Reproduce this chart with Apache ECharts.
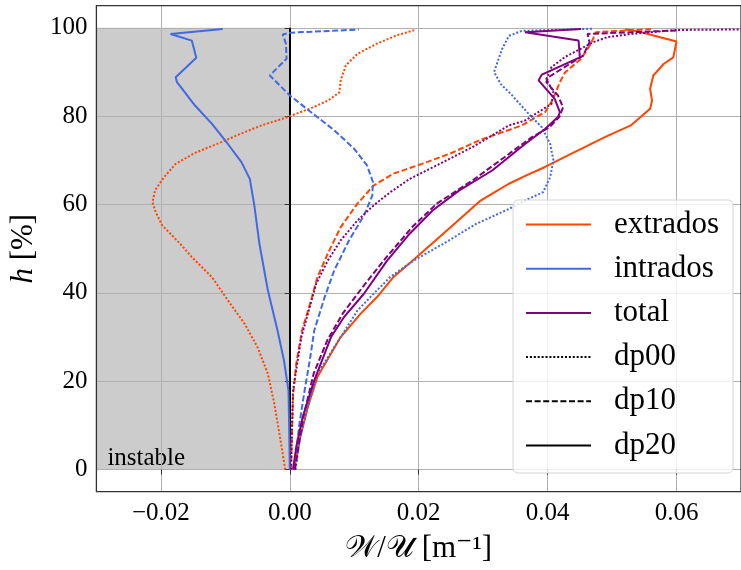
<!DOCTYPE html>
<html><head><meta charset="utf-8">
<script src="https://cdn.jsdelivr.net/npm/echarts@6/dist/echarts.min.js"></script>
<style>html,body{margin:0;padding:0;background:#fff}#c{width:741px;height:570px}</style>
</head><body><div id="c"></div>
<script>
// ---- axis ticks ----
const xTicks = [-0.02, 0, 0.02, 0.04, 0.06];
const yTicks = [0, 20, 40, 60, 80, 100];
const legendNames = ['extrados', 'intrados', 'total', 'dp00', 'dp10', 'dp20'];

// ---- extrados ----
const extDp00H = [0, 8.1, 14.9, 21.7, 27.7, 33.0, 38.3, 43.6, 48.1, 51.1, 55.3, 58.3, 60.5, 63.2, 66.2, 69.2, 71.7, 74.0, 76.1, 77.9, 79.6, 80.0, 81.8, 83.5, 85.4, 88.1, 91.5, 94.1, 96.4, 98.3, 99.5];
const extDp00X = [-0.0007, -0.0016, -0.0024, -0.0034, -0.0050, -0.0070, -0.0096, -0.0121, -0.0152, -0.0170, -0.0198, -0.0208, -0.0213, -0.0209, -0.0195, -0.0177, -0.0147, -0.0108, -0.0075, -0.0044, -0.0007, 0.0000, 0.0033, 0.0059, 0.0077, 0.0079, 0.0087, 0.0105, 0.0135, 0.0166, 0.0194];
const extDp10H = [0, 6.6, 16.4, 24.0, 31.5, 38.3, 43.6, 48.9, 54.9, 60.2, 64.3, 67.0, 69.2, 71.6, 74.6, 77.9, 80.9, 83.7, 87.7, 89.9, 93.0, 96.4, 99.0, 99.7];
const extDp10X = [0.0002, 0.0003, 0.0005, 0.0010, 0.0019, 0.0033, 0.0043, 0.0059, 0.0079, 0.0105, 0.0130, 0.0161, 0.0205, 0.0250, 0.0295, 0.0360, 0.0396, 0.0408, 0.0419, 0.0427, 0.0452, 0.0467, 0.0475, 0.0560];
const extDp20H = [0, 6.6, 14.2, 21.0, 30.0, 35.3, 39.0, 43.6, 48.1, 53.4, 57.9, 60.9, 62.8, 64.7, 66.6, 68.5, 71.5, 73.4, 75.2, 77.9, 81.7, 83.5, 86.2, 89.2, 91.8, 93.3, 96.9, 99.2, 99.6];
const extDp20X = [0.0007, 0.0015, 0.0028, 0.0043, 0.0079, 0.0110, 0.0135, 0.0161, 0.0197, 0.0238, 0.0273, 0.0296, 0.0318, 0.0340, 0.0367, 0.0396, 0.0437, 0.0463, 0.0488, 0.0529, 0.0559, 0.0562, 0.0559, 0.0564, 0.0580, 0.0595, 0.0600, 0.0539, 0.0520];

// ---- intrados ----
const intDp00H = [0, 6.6, 14.2, 21.7, 30.0, 36.0, 39.8, 43.6, 47.3, 51.1, 55.6, 59.0, 60.9, 62.8, 66.2, 70.0, 73.7, 77.5, 80.3, 84.7, 87.3, 90.0, 95.1, 98.2, 99.3, 99.8];
const intDp00X = [0.0009, 0.0015, 0.0028, 0.0043, 0.0079, 0.0105, 0.0130, 0.0156, 0.0192, 0.0238, 0.0289, 0.0340, 0.0365, 0.0393, 0.0404, 0.0409, 0.0404, 0.0391, 0.0372, 0.0345, 0.0327, 0.0317, 0.0329, 0.0340, 0.0360, 0.0470];
const intDp10H = [0, 10.4, 17.9, 24.7, 31.5, 39.0, 45.1, 51.9, 57.5, 62.0, 65.1, 68.8, 72.6, 76.8, 80.9, 84.7, 89.2, 93.0, 96.4, 98.5, 98.9, 99.6];
const intDp10X = [0.0007, 0.0015, 0.0023, 0.0031, 0.0038, 0.0054, 0.0069, 0.0092, 0.0115, 0.0128, 0.0129, 0.0120, 0.0100, 0.0069, 0.0033, 0.0000, -0.0031, -0.0005, -0.0006, -0.0011, 0.0002, 0.0107];
const intDp20H = [0, 10.0, 17.9, 24.7, 31.5, 40.6, 51.0, 59.8, 65.8, 69.6, 73.7, 78.3, 82.4, 87.7, 88.8, 93.2, 97.1, 98.6, 99.7];
const intDp20X = [0.0000, -0.0001, -0.0002, -0.0009, -0.0019, -0.0034, -0.0047, -0.0055, -0.0062, -0.0075, -0.0096, -0.0121, -0.0147, -0.0175, -0.0177, -0.0145, -0.0152, -0.0185, -0.0104];

// ---- total ----
const totDp00H = [0, 17.9, 30.0, 36.8, 42.1, 47.3, 51.9, 56.4, 59.8, 62.8, 65.8, 69.6, 73.2, 77.9, 79.0, 82.8, 85.4, 88.4, 91.1, 93.4, 95.3, 96.7, 97.9, 98.6, 99.5, 99.7];
const totDp00X = [0.0002, 0.0005, 0.0018, 0.0031, 0.0041, 0.0059, 0.0079, 0.0105, 0.0130, 0.0156, 0.0186, 0.0238, 0.0286, 0.0340, 0.0365, 0.0406, 0.0409, 0.0398, 0.0406, 0.0427, 0.0452, 0.0470, 0.0493, 0.0529, 0.0600, 0.0760];
const totDp10H = [0, 11.9, 21.7, 29.2, 35.3, 41.3, 48.1, 54.9, 60.2, 65.4, 70.7, 75.2, 77.5, 79.8, 82.0, 84.7, 87.7, 88.8, 93.7, 96.7, 98.6, 99.4];
const totDp10X = [0.0008, 0.0021, 0.0037, 0.0058, 0.0082, 0.0113, 0.0150, 0.0190, 0.0228, 0.0283, 0.0333, 0.0375, 0.0403, 0.0418, 0.0424, 0.0416, 0.0398, 0.0401, 0.0455, 0.0465, 0.0462, 0.0600];
const totDp20H = [0, 5.1, 11.9, 20.2, 30.0, 34.5, 39.8, 47.3, 53.4, 58.7, 63.2, 67.7, 73.7, 77.1, 79.8, 80.9, 83.9, 88.1, 89.4, 93.3, 97.1, 99.0, 99.4, 99.7];
const totDp20X = [0.0005, 0.0010, 0.0020, 0.0038, 0.0064, 0.0084, 0.0115, 0.0151, 0.0186, 0.0222, 0.0263, 0.0314, 0.0365, 0.0396, 0.0416, 0.0419, 0.0411, 0.0386, 0.0391, 0.0450, 0.0448, 0.0365, 0.0363, 0.0452];

// ---- styling ----
const SERIF = "'Liberation Serif', 'DejaVu Serif', serif";
const colors = { extrados: '#ff4500', intrados: '#4169e1', total: '#800080' };
const dashes = { dp00: [2, 1.9], dp10: [6, 2.6], dp20: 'solid' };
const LW = 2;

function pairs(xs, hs) { return xs.map((x, i) => [x, hs[i]]); }

const curves = [
  ['extrados', 'dp00', extDp00X, extDp00H], ['extrados', 'dp10', extDp10X, extDp10H], ['extrados', 'dp20', extDp20X, extDp20H],
  ['intrados', 'dp00', intDp00X, intDp00H], ['intrados', 'dp10', intDp10X, intDp10H], ['intrados', 'dp20', intDp20X, intDp20H],
  ['total', 'dp00', totDp00X, totDp00H], ['total', 'dp10', totDp10X, totDp10H], ['total', 'dp20', totDp20X, totDp20H]
];

const xMin = -0.03, xMax = 0.07, yMin = -5, yMax = 105;

const series = [];
// background: unstable region, x=0 line
series.push({
  name: 'bg', type: 'line', data: [], silent: true,
  markArea: {
    silent: true, z: 1,
    itemStyle: { color: '#cccccc' },
    label: { show: true, position: 'insideBottomLeft', distance: 0, offset: [11, 1], formatter: 'instable',
             fontSize: 25, color: '#000', fontFamily: SERIF },
    data: [[{ coord: [xMin, yTicks[0]] }, { coord: [0, yTicks[yTicks.length - 1]] }]]
  },
  markLine: {
    silent: true, z: 2, symbol: 'none', label: { show: false },
    lineStyle: { color: '#000', width: 2, type: 'solid' },
    data: [[{ coord: [0, yTicks[0]] }, { coord: [0, yTicks[yTicks.length - 1]] }]]
  }
});
curves.forEach(([part, dp, xs, hs]) => {
  series.push({
    name: part + '-' + dp, type: 'line', z: 3, symbol: 'none', animation: false,
    data: pairs(xs, hs),
    lineStyle: { color: colors[part], width: LW, type: dashes[dp], cap: 'butt' }
  });
});
// legend proxies
legendNames.forEach(n => {
  const col = colors[n] || '#000';
  const ty = dashes[n] || 'solid';
  series.push({ name: n, type: 'line', data: [], symbol: 'none', itemStyle: { color: col },
    lineStyle: { color: col, width: LW, type: ty } });
});

const chart = echarts.init(document.getElementById('c'), null, { renderer: 'canvas' });
chart.setOption({
  animation: false,
  backgroundColor: '#fff',
  grid: { left: 96, top: 5.7, right: -7.5, bottom: 78.3, show: true, z: 4, borderColor: '#333', borderWidth: 1.3, backgroundColor: 'transparent', containLabel: false },
  legend: {
    data: legendNames, orient: 'vertical', left: 513, top: 200,
    itemWidth: 65, itemHeight: 14, itemGap: 13.2,
    padding: [9, 14, 12, 12],
    itemStyle: { opacity: 0 },
    backgroundColor: 'rgba(255,255,255,0.8)', borderColor: '#d5d5d5', borderWidth: 1, borderRadius: 5,
    textStyle: { fontSize: 31, fontFamily: SERIF, color: '#000', padding: [0, 0, 0, 18] },
    selectedMode: false
  },
  xAxis: {
    type: 'value', min: xMin, max: xMax, z: 2,
    name: '𝒲/𝒰 [m⁻¹]', nameLocation: 'middle', nameGap: 42,
    nameTextStyle: { fontSize: 31, fontFamily: SERIF, color: '#000' },
    axisLine: { show: false },
    axisTick: { show: true, customValues: xTicks, length: 5, lineStyle: { color: '#333' } },
    axisLabel: { customValues: xTicks, fontSize: 25, fontFamily: SERIF, color: '#000', margin: 9,
      formatter: v => (v < 0 ? '\u2212' : '') + Math.abs(v).toFixed(2) },
    splitLine: { show: true, lineStyle: { color: '#b0b0b0', width: 1 } }
  },
  yAxis: {
    type: 'value', min: yMin, max: yMax, z: 2,
    name: '{i|h} [%]', nameLocation: 'middle', nameGap: 56,
    nameTextStyle: { fontSize: 31, fontFamily: SERIF, color: '#000', rich: { i: { fontStyle: 'italic', fontSize: 31, fontFamily: SERIF } } },
    axisLine: { show: false },
    axisTick: { show: true, customValues: yTicks, length: 5, lineStyle: { color: '#333' } },
    axisLabel: { customValues: yTicks, fontSize: 25, fontFamily: SERIF, color: '#000', margin: 9 },
    splitLine: { show: true, lineStyle: { color: '#b0b0b0', width: 1 } }
  },
  series: series
});
</script></body></html>
